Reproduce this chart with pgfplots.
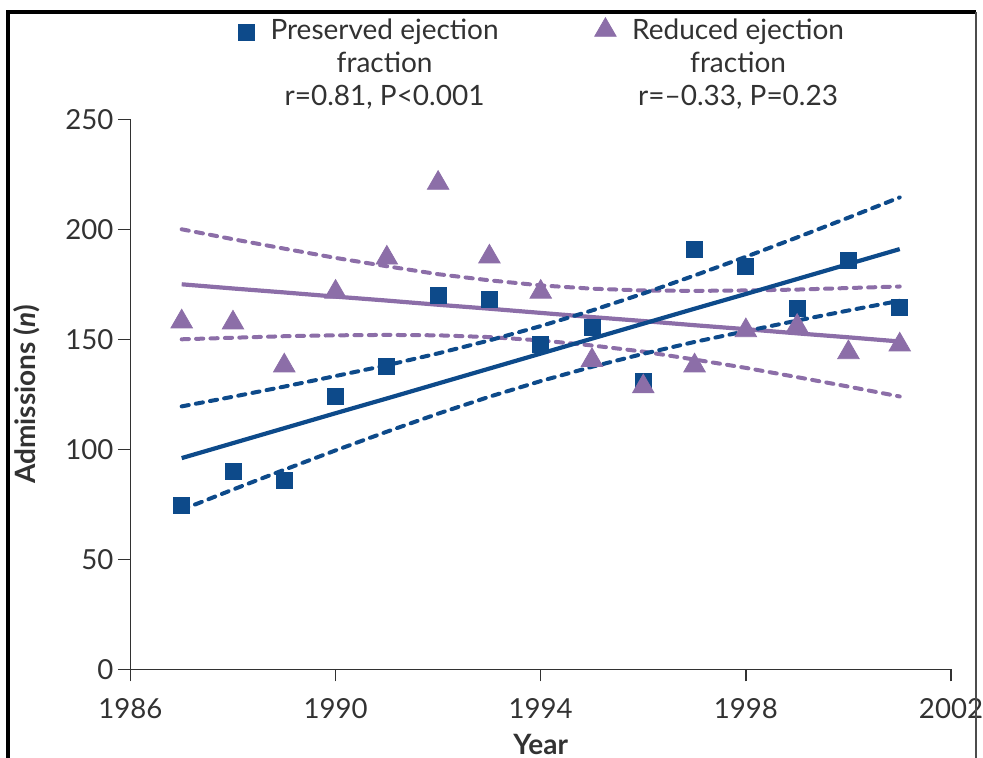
\documentclass[border=0pt]{standalone}
\usepackage{pgfplots}
\usepackage{pgfplotstable}
\pgfplotsset{compat=1.18}
\usepackage{fontspec}
\setmainfont{Lato}
\definecolor{hfpef}{RGB}{13,74,138}
\definecolor{hfref}{RGB}{140,110,168}
\definecolor{txt}{RGB}{50,50,50}

\pgfplotsset{
  legupA/.style={legend image code/.code={\draw[##1, mark repeat=2, mark phase=2] plot coordinates {(0cm,16pt) (0.3cm,16pt) (0.6cm,16pt)};}},
  legupB/.style={legend image code/.code={\draw[##1, mark repeat=2, mark phase=2] plot coordinates {(0cm,17pt) (0.3cm,17pt) (0.6cm,17pt)};}},
}

\pgfplotstableread{
year adm
1987 74.5
1988 90
1989 86
1990 124
1991 137.5
1992 170
1993 168
1994 147.5
1995 155.5
1996 131
1997 191
1998 183
1999 164
2000 186
2001 164.5
}\preserved

\pgfplotstableread{
year adm
1987 158
1988 157.5
1989 138
1990 171.5
1991 187
1992 221
1993 187.5
1994 171.5
1995 140.5
1996 128.5
1997 138
1998 154
1999 156
2000 144
2001 147.5
}\reduced

\pgfplotstableread{
year fit upper lower
1987 96.0 119.5 72.5
1988 102.8 123.9 81.7
1989 109.6 128.5 90.7
1990 116.4 133.3 99.5
1991 123.1 138.2 108.0
1992 129.9 143.6 116.2
1993 136.7 149.5 123.9
1994 143.5 156.0 131.0
1995 150.3 163.1 137.5
1996 157.1 170.8 143.4
1997 163.9 179.0 148.8
1998 170.6 187.5 153.7
1999 177.4 196.3 158.5
2000 184.2 205.3 163.1
2001 191.0 214.5 167.5
}\preservedfit

\pgfplotstableread{
year fit upper lower
1987 175.0 200.0 150.0
1988 173.1 195.5 150.7
1989 171.3 191.2 151.4
1990 169.4 187.0 151.8
1991 167.6 183.2 152.0
1992 165.7 179.6 151.8
1993 163.9 176.8 151.0
1994 162.0 174.5 149.5
1995 160.1 173.0 147.2
1996 158.3 172.2 144.4
1997 156.4 172.0 140.8
1998 154.6 172.2 137.0
1999 152.7 172.6 132.8
2000 150.9 173.3 128.5
2001 149.0 174.0 124.0
}\reducedfit

\begin{document}
\begin{tikzpicture}
\begin{axis}[
  at={(0,0)}, anchor=south west,
  scale only axis, width=410.3pt, height=275pt,
  xmin=1986, xmax=2002, ymin=0, ymax=250,
  xtick={1986,1990,1994,1998,2002},
  ytick={0,50,100,150,200,250},
  axis x line*=bottom, axis y line*=left,
  tick align=outside, major tick length=6pt,
  axis line style={txt, line width=0.7pt},
  tick style={txt, line width=0.7pt},
  /pgf/number format/assume math mode=true,
  /pgf/number format/1000 sep={},
  tick label style={font=\fontsize{13.8}{16}\selectfont, text=txt},
  xticklabel style={yshift=-5pt},
  yticklabel style={xshift=1pt},
  xlabel={\textbf{Year}},
  ylabel={\textbf{Admissions (\textit{n})}},
  label style={font=\fontsize{14}{16}\selectfont, text=txt},
  xlabel style={at={(axis description cs:0.5,-0.1358)}, anchor=center},
  ylabel style={at={(axis description cs:-0.126,0.5)}, anchor=center},
  clip=false,
  legend columns=2,
  legend style={draw=none, fill=none, at={(axis description cs:0.124,1.197)}, anchor=north west,
    font=\fontsize{14}{16.5}\selectfont, text=txt,
    nodes={align=center},
    /tikz/every odd column/.append style={column sep=6pt},
    /tikz/every even column/.append style={column sep=46pt}},
]
% purple regression and confidence limits
\addplot[hfref, line width=2.1pt, forget plot] table[x=year, y=fit] {\reducedfit};
\addplot[hfref, line width=2pt, line cap=round, dash pattern=on 3.6pt off 3.6pt, forget plot] table[x=year, y=upper] {\reducedfit};
\addplot[hfref, line width=2pt, line cap=round, dash pattern=on 3.6pt off 3.6pt, forget plot] table[x=year, y=lower] {\reducedfit};
% blue regression and confidence limits
\addplot[hfpef, line width=2.1pt, forget plot] table[x=year, y=fit] {\preservedfit};
\addplot[hfpef, line width=2pt, line cap=round, dash pattern=on 3.6pt off 3.6pt, forget plot] table[x=year, y=upper] {\preservedfit};
\addplot[hfpef, line width=2pt, line cap=round, dash pattern=on 3.6pt off 3.6pt, forget plot] table[x=year, y=lower] {\preservedfit};
% data
\addplot[only marks, mark=square*, mark size=4pt, hfpef, mark options={fill=hfpef, draw=none}, legupA]
  table[x=year, y=adm] {\preserved};
\addlegendentry{Preserved ejection\\fraction\\r=0.81, P<0.001}
\addplot[only marks, mark=triangle*, mark size=6.2pt, hfref, mark options={fill=hfref, draw=none}, legupB]
  table[x=year, y=adm] {\reduced};
\addlegendentry{Reduced ejection\\fraction\\r=--0.33, P=0.23}
\end{axis}
% picture frame
\draw[black, line width=1.6pt] (-61.2pt,-44.35pt) -- (-61.2pt,328.65pt) -- (422.8pt,328.65pt);
\draw[black!70, line width=0.8pt] (422.8pt,328.65pt) -- (422.8pt,-44.35pt);
\pgfresetboundingbox
\path[use as bounding box] (-65.2pt,-44.35pt) rectangle (426.3pt,334.65pt);
\end{tikzpicture}
\end{document}
